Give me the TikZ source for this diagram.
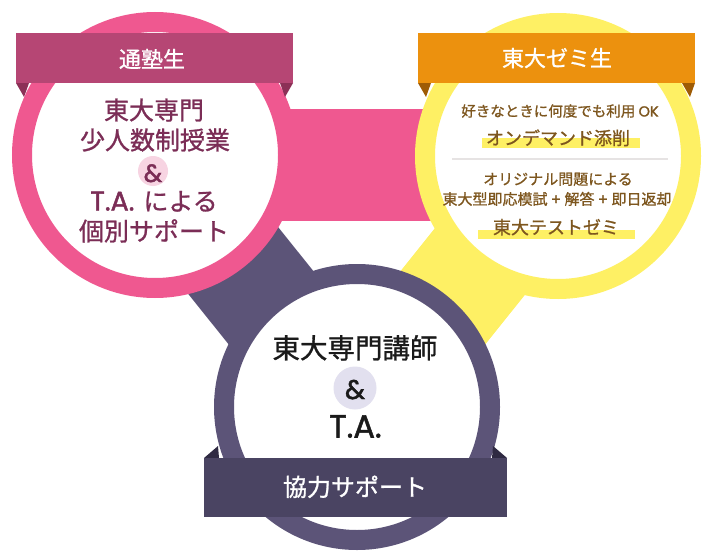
\documentclass[tikz,border=0pt]{standalone}
\usepackage{fontspec}
\setmainfont{Noto Sans CJK JP}[FakeBold=1.0]
\newfontfamily\latin{Poppins}[FakeBold=1.6]
\definecolor{pinkring}{HTML}{EF5890}
\definecolor{pinkrib}{HTML}{B64674}
\definecolor{pinkfold}{HTML}{8C3057}
\definecolor{pinktext}{HTML}{7B2D56}
\definecolor{pinkamp}{HTML}{F7D4E2}
\definecolor{yelring}{HTML}{FEF064}
\definecolor{orarib}{HTML}{EC910E}
\definecolor{orafold}{HTML}{9E5B05}
\definecolor{browntext}{HTML}{7D561E}
\definecolor{divgray}{HTML}{E6E3E3}
\definecolor{purring}{HTML}{5C5478}
\definecolor{purrib}{HTML}{4A4462}
\definecolor{purfold}{HTML}{2F2A42}
\definecolor{puramp}{HTML}{E2E0EF}
\definecolor{darktext}{HTML}{1A1A1A}
\tikzset{
  ring/.style={fill=white, draw=#1, line width=20pt},
  txt/.style={anchor=base, inner sep=0pt, font=\fontsize{#1}{#1}\selectfont},
}
\begin{document}
\begin{tikzpicture}[x=1pt,y=-1pt]
\useasboundingbox (0,0) rectangle (709,559);
% centres
\coordinate (cp) at (155,155);
\coordinate (cy) at (558,156);
\coordinate (cu) at (357,407);
% bands
\fill[pinkring] (155,109) rectangle (558,221);
\fill[purring] (198.7,128.0) -- (400.7,380.0) -- (313.3,450.0) -- (111.3,198.0) -- cycle;
\fill[yelring] (514.4,128.9) -- (313.4,379.9) -- (400.6,450.1) -- (601.6,199.1) -- cycle;
% circles
\draw[ring=pinkring] (cp) circle[radius=133];
\draw[ring=yelring] (cy) circle[radius=133];
\draw[ring=purring] (cu) circle[radius=133];
% pink ribbon
\fill[pinkfold] (16,83) -- (29,83) -- (24,97) -- cycle;
\fill[pinkfold] (293,83) -- (280,83) -- (285,97) -- cycle;
\fill[pinkrib] (16,33) rectangle (293,83);
\node[txt=22, text=white] (rp) at (152,67.4) {通塾生};
% orange ribbon
\fill[orafold] (418,83) -- (431,83) -- (426,97) -- cycle;
\fill[orafold] (695,83) -- (682,83) -- (690,97) -- cycle;
\fill[orarib] (418,33) rectangle (695,83);
\node[txt=22, text=white] (ry) at (557,66.4) {東大ゼミ生};
% purple ribbon
\fill[purfold] (204,458) -- (218,446) -- (219,458) -- cycle;
\fill[purfold] (507,458) -- (493,446) -- (492,458) -- cycle;
\fill[purrib] (204,458) rectangle (507,517);
\node[txt=24, text=white] (ru) at (355,496) {協力サポート};
% pink text
\node[txt=25, text=pinktext] (p1) at (154,119.5) {東大専門};
\node[txt=25, text=pinktext] (p2) at (155,149.5) {少人数制授業};
\fill[pinkamp] (153,171) circle[radius=15];
\node[txt=25, text=pinktext] (p3) at (153,182) {\latin\&};
\node[txt=25, text=pinktext] (p4) at (154,210.5) {{\latin\fontsize{27}{27}\selectfont T.A.\hspace{9pt}}による};
\node[txt=25, text=pinktext] (p5) at (154,240.5) {個別サポート};
% yellow text
\node[txt=14.5, text=browntext] (y1) at (560,116.5) {好きなときに何度でも利用 {\latin OK}};
\fill[yelring] (482,138) rectangle (640,148);
\node[txt=18, text=browntext] (y2) at (558,144.8) {オンデマンド添削};
\draw[divgray, line width=1.2pt] (452,159) -- (668,159);
\node[txt=15, text=browntext] (y3) at (558,184.7) {オリジナル問題による};
\node[txt=15, text=browntext] (y4) at (557,204.7) {東大型即応模試 {\latin +} 解答 {\latin +} 即日返却};
\fill[yelring] (478,230) rectangle (635,239);
\node[txt=18, text=browntext] (y5) at (556,234) {東大テストゼミ};
% purple text
\node[txt=27.5, text=darktext] (u1) at (355,358.3) {東大専門講師};
\fill[puramp] (355,388) circle[radius=21.5];
\node[txt=27, text=darktext] (u2) at (355,399) {\latin\&};
\node[txt=32, text=darktext] (u3) at (355.5,437.5) {\latin T.A.};
\end{tikzpicture}
\end{document}
